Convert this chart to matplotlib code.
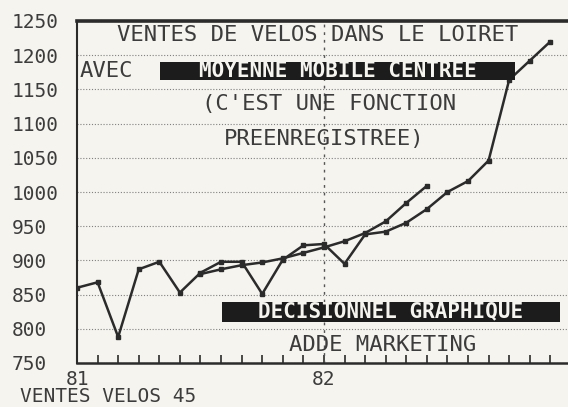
import matplotlib
matplotlib.use("Agg")
import matplotlib.pyplot as plt
from matplotlib.patches import Rectangle
from matplotlib.ticker import FixedLocator, MultipleLocator

# ventes mensuelles de velos, janvier 81 -> decembre 82
mois = list(range(24))
ventes = [860, 868, 788, 887, 898, 853, 882, 898, 898, 851, 901, 922,
          924, 895, 938, 942, 955, 975, 1000, 1016, 1046, 1164, 1192, 1220]

# moyenne mobile centree (12 mois), juillet 81 -> juin 82
mois_mm = list(range(6, 18))
moyenne = [880, 887, 893, 897, 903, 911, 919, 928, 940, 957, 984, 1009]

graduations = [750, 800, 850, 900, 950, 1000, 1050, 1100, 1150, 1200, 1250]
annees = ["81", "82"]
pos_annees = [0, 12]

papier = "#f6f4ef"
encre = "#2b2b2b"
gris = "#3c3c3c"
police = "DejaVu Sans Mono"

fig = plt.figure(figsize=(5.68, 4.07), dpi=100, facecolor=papier)
ax = fig.add_axes([77 / 568, 1 - 363 / 407, 1 - 77 / 568, (363 - 21) / 407])
ax.set_facecolor(papier)

ax.plot(mois, ventes, color=encre, lw=1.8, marker="s", ms=2.6, zorder=4)
ax.plot(mois_mm, moyenne, color=encre, lw=1.8, marker="s", ms=2.6, zorder=4)

ax.set_xlim(0, (568 - 77) / 20.58)
ax.set_ylim(750, 1250)

# axe vertical: graduations a gauche, alignees a gauche
ax.set_yticks(graduations)
ax.set_yticklabels([str(g) for g in graduations], fontfamily=police,
                   fontsize=14, color=gris)
ax.tick_params(axis="y", length=0, pad=46.8)
for lab in ax.get_yticklabels():
    lab.set_horizontalalignment("left")

# axe horizontal: un trait par mois, annees sous l'axe
ax.xaxis.set_major_locator(FixedLocator(pos_annees))
ax.set_xticklabels(annees, fontfamily=police, fontsize=14, color=gris)
ax.xaxis.set_minor_locator(MultipleLocator(1))
ax.tick_params(axis="x", which="both", direction="in", length=6, width=1.2,
               color=encre, pad=5)

ax.yaxis.grid(True, linestyle=(0, (1, 1.6)), color="#808080", lw=0.8)
ax.set_axisbelow(True)
ax.axvline(12, color="#555555", lw=1.0, ls=(0, (2, 3.5)), zorder=1)

ax.spines["right"].set_visible(False)
ax.spines["top"].set_linewidth(2.6)
ax.spines["left"].set_linewidth(1.5)
ax.spines["bottom"].set_linewidth(1.8)
for s in ("top", "left", "bottom"):
    ax.spines[s].set_color(encre)

txt = dict(fontfamily=police, fontsize=16, color=gris, va="center", zorder=5)
inv = dict(fontfamily=police, fontsize=15, fontweight="bold", color=papier,
           ha="center", va="center", zorder=6)

ax.text(11.7, 1229, "VENTES DE VELOS DANS LE LOIRET", ha="center", **txt)
ax.text(0.15, 1177, "AVEC", ha="left", **txt)
ax.add_patch(Rectangle((4.03, 1164), 17.25, 26, fc="#1c1c1c", ec="none", zorder=5))
ax.text(12.66, 1177, "MOYENNE MOBILE CENTREE", **inv)
ax.text(12.24, 1128, "(C'EST UNE FONCTION", ha="center", **txt)
ax.text(12.0, 1077, "PREENREGISTREE)", ha="center", **txt)

ax.add_patch(Rectangle((7.05, 810), 16.4, 29, fc="#1c1c1c", ec="none", zorder=5))
ax.text(15.26, 825, "DECISIONNEL GRAPHIQUE", **inv)
ax.text(14.84, 776, "ADDE MARKETING", ha="center", **txt)

fig.text(20 / 568, 1 - 397 / 407, "VENTES VELOS 45", fontfamily=police,
         fontsize=14, color=gris, ha="left", va="center")

fig.savefig("out.png", dpi=100, facecolor=papier)
